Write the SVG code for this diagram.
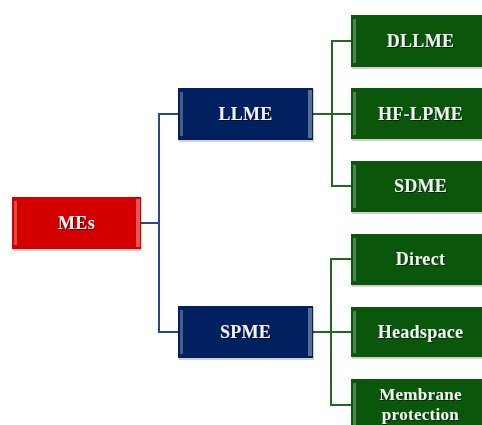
<svg xmlns="http://www.w3.org/2000/svg" width="482" height="425" viewBox="0 0 482 425">
  <style>
    .lbl { font-family: "Liberation Serif", "Times New Roman", serif; font-weight: bold; font-size: 18px; letter-spacing: 0.3px; fill: #f2f2f2; text-anchor: middle; }
    .tight { font-size: 17px; }
    .red { fill: #d40000; }
    .blue { fill: #002060; }
    .green { fill: #0a560a; }
    .shade { fill: #000; opacity: 0.18; }
    .blueLine { stroke: #2b4690; stroke-width: 2; fill: none; }
    .greenLine { stroke: #1f6a1f; stroke-width: 2; fill: none; }
    .hiL { fill: #fff; opacity: 0.28; }
    .hiR { fill: #fff; opacity: 0.35; }
  </style>
  <defs>
    <filter id="txtShadow" x="-10%" y="-20%" width="130%" height="150%">
      <feDropShadow dx="1" dy="1" stdDeviation="0.6" flood-color="#000" flood-opacity="0.55"/>
    </filter>
  </defs>
  <rect width="482" height="425" fill="#fff"/>

  <g id="connectors">
    <polyline class="blueLine" points="141,223 159,223"/>
    <polyline class="blueLine" points="178,114 159,114 159,332 178,332"/>
    <polyline class="greenLine" points="313,114 351,114"/>
    <polyline class="greenLine" points="351,41 332,41 332,186 351,186"/>
    <polyline class="greenLine" points="313,332 351,332"/>
    <polyline class="greenLine" points="351,259 331,259 331,405 351,405"/>
  </g>

  <g id="node-mes">
    <rect class="shade" x="13" y="198" width="129" height="53"/>
    <rect class="red" x="12" y="197" width="129" height="52"/>
    <rect class="hiL" x="14" y="201" width="3" height="44"/>
    <rect class="hiR" x="136" y="199" width="4" height="48"/>
    <text class="lbl" x="76.5" y="229" filter="url(#txtShadow)">MEs</text>
  </g>

  <g id="node-llme">
    <rect class="shade" x="179" y="89" width="135" height="53"/>
    <rect class="blue" x="178" y="88" width="135" height="52"/>
    <rect class="hiL" x="180" y="92" width="3" height="44"/>
    <rect class="hiR" x="308" y="90" width="4" height="48"/>
    <text class="lbl" x="245.5" y="120" filter="url(#txtShadow)">LLME</text>
  </g>

  <g id="node-spme">
    <rect class="shade" x="179" y="307" width="135" height="53"/>
    <rect class="blue" x="178" y="306" width="135" height="52"/>
    <rect class="hiL" x="180" y="310" width="3" height="44"/>
    <rect class="hiR" x="308" y="308" width="4" height="48"/>
    <text class="lbl" x="245.5" y="338" filter="url(#txtShadow)">SPME</text>
  </g>

  <g id="node-dllme">
    <rect class="shade" x="352" y="16" width="131" height="53"/>
    <rect class="green" x="351" y="15" width="131" height="52"/>
    <rect class="hiL" x="353" y="19" width="3" height="44"/>
    <text class="lbl" x="420.5" y="47" filter="url(#txtShadow)">DLLME</text>
  </g>

  <g id="node-hflpme">
    <rect class="shade" x="352" y="89" width="131" height="52"/>
    <rect class="green" x="351" y="88" width="131" height="51"/>
    <rect class="hiL" x="353" y="92" width="3" height="43"/>
    <text class="lbl" x="420.5" y="120" filter="url(#txtShadow)">HF-LPME</text>
  </g>

  <g id="node-sdme">
    <rect class="shade" x="352" y="162" width="131" height="52"/>
    <rect class="green" x="351" y="161" width="131" height="51"/>
    <rect class="hiL" x="353" y="165" width="3" height="43"/>
    <text class="lbl" x="420.5" y="192" filter="url(#txtShadow)">SDME</text>
  </g>

  <g id="node-direct">
    <rect class="shade" x="352" y="235" width="131" height="52"/>
    <rect class="green" x="351" y="234" width="131" height="51"/>
    <rect class="hiL" x="353" y="238" width="3" height="43"/>
    <text class="lbl" x="420.5" y="265" filter="url(#txtShadow)">Direct</text>
  </g>

  <g id="node-headspace">
    <rect class="shade" x="352" y="308" width="131" height="51"/>
    <rect class="green" x="351" y="307" width="131" height="50"/>
    <rect class="hiL" x="353" y="311" width="3" height="42"/>
    <text class="lbl" x="420.5" y="338" filter="url(#txtShadow)">Headspace</text>
  </g>

  <g id="node-membrane">
    <rect class="shade" x="352" y="380" width="131" height="52"/>
    <rect class="green" x="351" y="379" width="131" height="52"/>
    <rect class="hiL" x="353" y="383" width="3" height="44"/>
    <text class="lbl tight" filter="url(#txtShadow)"><tspan x="420.5" y="400">Membrane</tspan><tspan x="420.5" y="420">protection</tspan></text>
  </g>
</svg>
